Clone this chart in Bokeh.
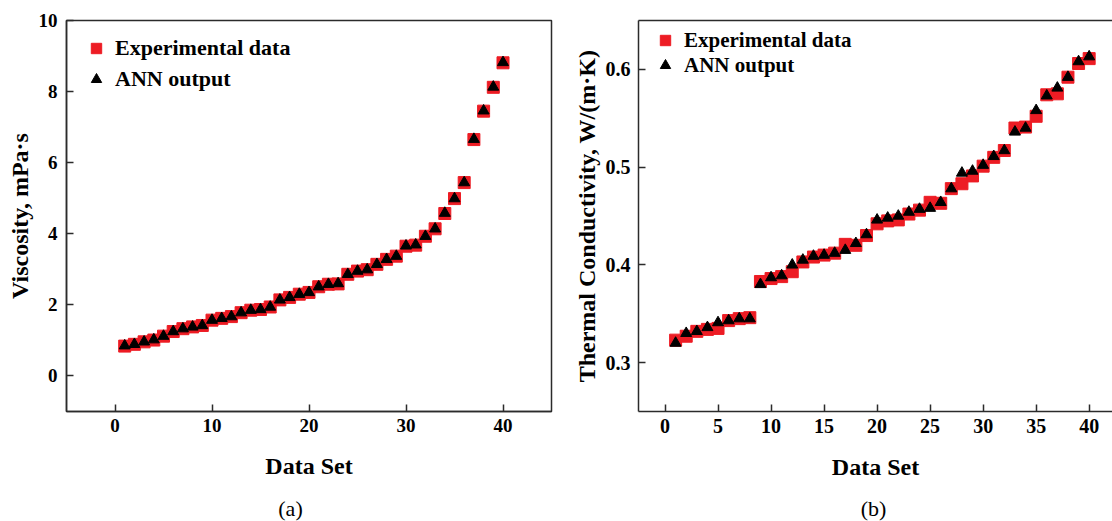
from bokeh.plotting import figure
from bokeh.layouts import row, column
from bokeh.models import (Legend, LegendItem, FixedTicker, LinearAxis, Label)
from bokeh.embed import file_html
from bokeh.resources import INLINE

# ---------------- data ----------------
data_set = list(range(1, 41))

visc_exp = [0.84, 0.89, 0.96, 1.01, 1.12, 1.25, 1.33, 1.38, 1.42, 1.57,
            1.62, 1.67, 1.78, 1.85, 1.87, 1.94, 2.14, 2.21, 2.30, 2.35,
            2.51, 2.58, 2.59, 2.86, 2.95, 2.99, 3.14, 3.28, 3.37, 3.65,
            3.68, 3.93, 4.14, 4.57, 4.99, 5.44, 6.65, 7.45, 8.12, 8.81]
visc_ann = [0.85, 0.89, 0.96, 1.02, 1.12, 1.25, 1.33, 1.38, 1.42, 1.57,
            1.62, 1.67, 1.78, 1.85, 1.87, 1.94, 2.14, 2.21, 2.30, 2.35,
            2.51, 2.58, 2.60, 2.86, 2.95, 2.99, 3.14, 3.28, 3.37, 3.66,
            3.69, 3.93, 4.14, 4.58, 4.99, 5.44, 6.66, 7.46, 8.13, 8.82]

tc_exp = [0.323, 0.327, 0.332, 0.334, 0.335, 0.343, 0.345, 0.346, 0.383, 0.386,
          0.388, 0.393, 0.403, 0.408, 0.410, 0.412, 0.421, 0.420, 0.430, 0.442,
          0.445, 0.446, 0.452, 0.456, 0.464, 0.463, 0.478, 0.483, 0.491, 0.501,
          0.510, 0.517, 0.540, 0.541, 0.552, 0.574, 0.575, 0.592, 0.606, 0.611]
tc_ann = [0.320, 0.330, 0.332, 0.336, 0.341, 0.343, 0.345, 0.345, 0.380, 0.387,
          0.389, 0.400, 0.405, 0.409, 0.410, 0.412, 0.415, 0.422, 0.431, 0.446,
          0.448, 0.450, 0.454, 0.457, 0.458, 0.464, 0.478, 0.494, 0.496, 0.502,
          0.511, 0.517, 0.536, 0.540, 0.558, 0.573, 0.581, 0.592, 0.608, 0.613]

visc_xticks = [0, 10, 20, 30, 40]
visc_yticks = [0, 2, 4, 6, 8, 10]
tc_xticks = [0, 5, 10, 15, 20, 25, 30, 35, 40]
tc_yticks = [0.3, 0.4, 0.5, 0.6]

labels = ["Experimental data", "ANN output"]
captions = ["(a)", "(b)"]

FONT = "Liberation Serif"
RED = "#ED1C24"
AX = "#2b2b2b"
MAIN_H = 491
CAP_H = 30


def style_axis(ax, ticks, tick_size, title_size):
    ax.ticker = FixedTicker(ticks=ticks)
    ax.axis_line_width = 1.5
    ax.axis_line_color = AX
    ax.major_tick_line_color = AX
    ax.major_tick_line_width = 1.5
    ax.major_tick_in = 7
    ax.major_tick_out = 0
    ax.minor_tick_line_color = None
    ax.major_label_text_font = FONT
    ax.major_label_text_font_style = "bold"
    ax.major_label_text_font_size = tick_size
    ax.major_label_text_color = "black"
    ax.axis_label_text_font = FONT
    ax.axis_label_text_font_style = "bold"
    ax.axis_label_text_font_size = title_size
    ax.axis_label_text_color = "black"


def add_legend_item(p, label, rend, loc, font_size):
    leg = Legend(items=[LegendItem(label=label, renderers=[rend])],
                 location=loc, orientation="vertical")
    leg.border_line_color = None
    leg.background_fill_alpha = 0
    leg.padding = 0
    leg.margin = 0
    leg.glyph_width = 26
    leg.glyph_height = 26
    leg.label_height = 26
    leg.spacing = 0
    leg.label_standoff = 6
    leg.label_text_font = FONT
    leg.label_text_font_style = "bold"
    leg.label_text_font_size = font_size
    leg.label_text_color = "black"
    p.add_layout(leg)


def make_panel(width, xr, yr, xt, yt, ylab, exp, ann,
               mbl, mbr, mbt, mbb, loc_exp, loc_ann, leg_font,
               ylab_standoff, ylabel_standoff, tick_size, title_size, full_box):
    p = figure(width=width, height=MAIN_H, x_range=xr, y_range=yr,
               output_backend="svg", toolbar_location=None,
               x_axis_location=None, y_axis_location=None,
               min_border_left=mbl, min_border_right=mbr,
               min_border_top=mbt, min_border_bottom=mbb)
    p.grid.visible = False
    p.background_fill_color = "white"
    p.border_fill_color = "white"

    xaxis = LinearAxis()
    yaxis = LinearAxis()
    style_axis(xaxis, xt, tick_size, title_size)
    style_axis(yaxis, yt, tick_size, title_size)
    xaxis.axis_label = "Data Set"
    xaxis.major_label_standoff = 7
    xaxis.axis_label_standoff = 18
    yaxis.axis_label = ylab
    yaxis.major_label_standoff = ylabel_standoff
    yaxis.axis_label_standoff = ylab_standoff
    p.add_layout(xaxis, "below")
    p.add_layout(yaxis, "left")

    if full_box:
        p.outline_line_color = AX
        p.outline_line_width = 1.5
    else:
        p.outline_line_color = None
        top = LinearAxis(ticker=FixedTicker(ticks=[]))
        top.axis_line_color = AX
        top.axis_line_width = 1.5
        top.major_tick_line_color = None
        top.minor_tick_line_color = None
        top.major_label_text_font_size = "0px"
        p.add_layout(top, "above")

    r1 = p.scatter(data_set, exp, marker="square", size=12,
                   fill_color=RED, line_color=RED)
    r2 = p.scatter(data_set, ann, marker="triangle", size=11,
                   fill_color="black", line_color="black")

    add_legend_item(p, labels[0], r1, loc_exp, leg_font)
    add_legend_item(p, labels[1], r2, loc_ann, leg_font)
    return p


def caption_fig(width, text, cx):
    c = figure(width=width, height=CAP_H, x_range=(0, 1), y_range=(0, 1),
               output_backend="svg", toolbar_location=None,
               x_axis_location=None, y_axis_location=None,
               min_border=0, outline_line_color=None)
    c.grid.visible = False
    c.background_fill_color = "white"
    c.border_fill_color = "white"
    c.add_layout(Label(x=cx, y=13, x_units="screen", y_units="screen",
                       text=text, text_align="center", text_baseline="middle",
                       text_font=FONT, text_font_size="22px",
                       text_color="black"))
    return c


p1 = make_panel(565, (-5, 45), (-1, 10), visc_xticks, visc_yticks,
                "Viscosity, mPa\u00b7s", visc_exp, visc_ann,
                66, 14, 20, MAIN_H - 411, (17, 350), (17, 319), "22px",
                3, 9, "19px", "24px", True)
p2 = make_panel(547, (-2.5, 42.2), (0.25, 0.65), tc_xticks, tc_yticks,
                "Thermal Conductivity, W/(m\u00b7K)", tc_exp, tc_ann,
                73, 0, 19, MAIN_H - 412, (14, 358), (14, 333), "21px",
                3, 8, "20px", "24px", False)

c1 = caption_fig(565, captions[0], 290)
c2 = caption_fig(547, captions[1], 873 - 565)

layout = column(row(p1, p2), row(c1, c2))
open("out.html", "w").write(file_html(layout, INLINE))
